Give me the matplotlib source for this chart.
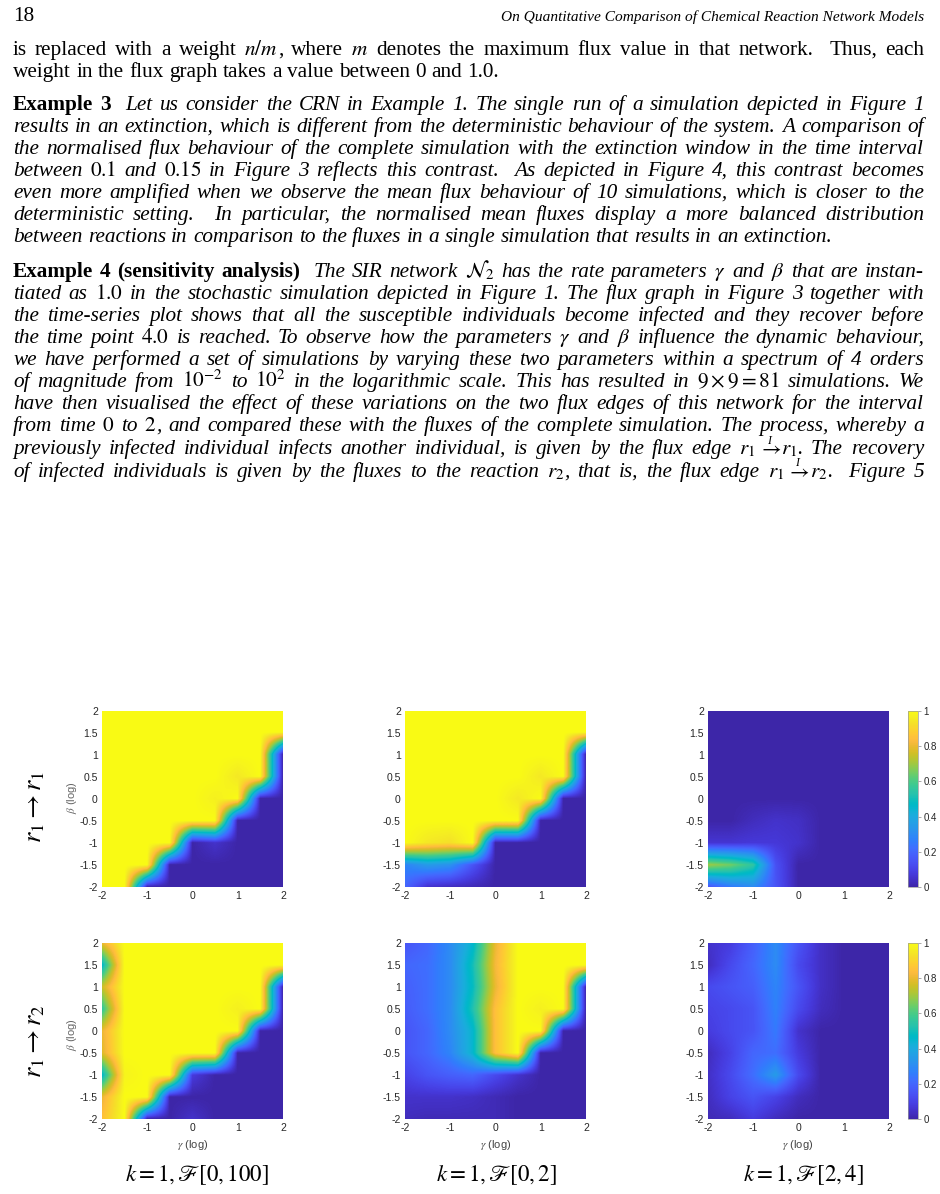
import numpy as np
import matplotlib
matplotlib.use('Agg')
import matplotlib.pyplot as plt
from matplotlib.colors import LinearSegmentedColormap

plt.rcParams['mathtext.fontset'] = 'stix'
plt.rcParams['axes.unicode_minus'] = False

SERIF = 'Liberation Serif'
SANS = 'Liberation Sans'

# ---------------- data (values at grid points, rows: beta = 2 ... -2, cols: gamma = -2 ... 2)
gamma_vals = [-2, -1.5, -1, -0.5, 0, 0.5, 1, 1.5, 2]
beta_vals = [2, 1.5, 1, 0.5, 0, -0.5, -1, -1.5, -2]
x_ticks = [-2, -1, 0, 1, 2]
x_tick_labels = ['-2', '-1', '0', '1', '2']
y_ticks = [-2, -1.5, -1, -0.5, 0, 0.5, 1, 1.5, 2]
y_tick_labels = ['-2', '-1.5', '-1', '-0.5', '0', '0.5', '1', '1.5', '2']
cbar_ticks = [0, 0.2, 0.4, 0.6, 0.8, 1]
cbar_tick_labels = ['0', '0.2', '0.4', '0.6', '0.8', '1']

r1r1_full = [
    [1, 1, 1, 1, 1, 1, 1, 1, 1],
    [1, 1, 1, 1, 1, 1, 1, 1, 1],
    [1, 1, 1, 1, 1, 1, 1, 1, 0],
    [1, 1, 1, 1, 1, 1, .95, 1, 0],
    [1, 1, 1, 1, 1, .97, 1, 0, 0],
    [1, 1, 1, 1, 1, 1, 0, 0, 0],
    [1, 1, 1, 1, 0, .05, 0, 0, 0],
    [1, 1, 1, 0, 0, 0, 0, 0, 0],
    [1, 1, 0, 0, 0, 0, 0, 0, 0],
]
r1r1_02 = [
    [1, 1, 1, 1, 1, 1, 1, 1, 1],
    [1, 1, 1, 1, 1, 1, 1, 1, 1],
    [1, 1, 1, 1, 1, 1, 1, 1, 0],
    [1, 1, 1, 1, 1, 1, .95, 1, 0],
    [1, 1, 1, 1, 1, .95, 1, 0, 0],
    [1, 1, 1, 1, 1, 1, 0, 0, 0],
    [1, .95, .93, 1, 0, 0, 0, 0, 0],
    [.28, .35, .32, .15, 0, 0, 0, 0, 0],
    [.2, .05, .03, .02, 0, 0, 0, 0, 0],
]
r1r1_24 = [
    [0, 0, 0, 0, 0, 0, 0, 0, 0],
    [0, 0, 0, 0, 0, 0, 0, 0, 0],
    [0, 0, 0, 0, 0, 0, 0, 0, 0],
    [0, 0, 0, 0, 0, 0, 0, 0, 0],
    [0, 0, 0, 0, 0, 0, 0, 0, 0],
    [0, 0, .03, .05, .04, 0, 0, 0, 0],
    [.06, .06, .07, .07, .05, 0, 0, 0, 0],
    [.7, .65, .55, .14, 0, 0, 0, 0, 0],
    [.15, .25, .3, .15, 0, 0, 0, 0, 0],
]
r1r2_full = [
    [.8, 1, 1, 1, 1, 1, 1, 1, 1],
    [.45, 1, 1, 1, 1, 1, 1, 1, 1],
    [.75, 1, 1, 1, 1, 1, 1, 1, 0],
    [.55, 1, 1, 1, 1, 1, .97, 1, 0],
    [.8, 1, 1, 1, 1, 1, 1, 0, 0],
    [.78, 1, 1, 1, 1, 1, 0, 0, 0],
    [.45, .98, 1, 1, .08, 0, 0, 0, 0],
    [.8, 1, 1, 0, 0, 0, 0, 0, 0],
    [.85, 1, 0, 0, .05, 0, 0, 0, 0],
]
r1r2_02 = [
    [.15, .2, .3, .45, .8, 1, 1, 1, 1],
    [.2, .22, .3, .5, .82, 1, 1, 1, 1],
    [.18, .22, .3, .48, .8, 1, 1, 1, 0],
    [.17, .22, .3, .52, .85, 1, .97, 1, 0],
    [.15, .2, .3, .45, .85, 1, 1, 0, 0],
    [.15, .2, .28, .45, .85, 1, 0, 0, 0],
    [.1, .15, .18, .2, .12, .05, 0, 0, 0],
    [.05, .05, .05, .04, .02, 0, 0, 0, 0],
    [.03, .02, .02, .02, .02, 0, 0, 0, 0],
]
r1r2_24 = [
    [.05, .08, .18, .3, .15, .04, 0, 0, 0],
    [.03, .12, .2, .3, .12, .04, 0, 0, 0],
    [.12, .15, .18, .28, .15, .04, 0, 0, 0],
    [.1, .12, .15, .27, .12, .03, 0, 0, 0],
    [.08, .12, .15, .25, .05, 0, 0, 0, 0],
    [.03, .1, .2, .22, .08, 0, 0, 0, 0],
    [.04, .12, .22, .35, .12, 0, 0, 0, 0],
    [.03, .1, .15, .1, .03, 0, 0, 0, 0],
    [.02, .03, .08, .03, 0, 0, 0, 0, 0],
]
panels = [[r1r1_full, r1r1_02, r1r1_24], [r1r2_full, r1r2_02, r1r2_24]]
row_labels = [r'$r_1 \rightarrow r_1$', r'$r_1 \rightarrow r_2$']
col_captions = [r'$k = 1, \mathscr{F}[0,100]$', r'$k = 1, \mathscr{F}[0,2]$', r'$k = 1, \mathscr{F}[2,4]$']

# parula colormap
PARULA = [
    (0.2422, 0.1504, 0.6603), (0.2504, 0.1650, 0.7076), (0.2578, 0.1818, 0.7511), (0.2647, 0.1978, 0.7952),
    (0.2706, 0.2147, 0.8364), (0.2751, 0.2342, 0.8710), (0.2783, 0.2559, 0.8991), (0.2803, 0.2782, 0.9221),
    (0.2813, 0.3006, 0.9414), (0.2810, 0.3228, 0.9579), (0.2795, 0.3447, 0.9717), (0.2760, 0.3667, 0.9829),
    (0.2699, 0.3892, 0.9906), (0.2602, 0.4123, 0.9952), (0.2440, 0.4358, 0.9988), (0.2206, 0.4603, 0.9973),
    (0.1963, 0.4847, 0.9892), (0.1834, 0.5074, 0.9798), (0.1786, 0.5289, 0.9682), (0.1764, 0.5499, 0.9520),
    (0.1687, 0.5703, 0.9359), (0.1540, 0.5902, 0.9218), (0.1460, 0.6091, 0.9079), (0.1380, 0.6276, 0.8973),
    (0.1248, 0.6459, 0.8883), (0.1113, 0.6635, 0.8763), (0.0952, 0.6798, 0.8598), (0.0689, 0.6948, 0.8394),
    (0.0297, 0.7082, 0.8163), (0.0036, 0.7203, 0.7917), (0.0067, 0.7312, 0.7660), (0.0433, 0.7411, 0.7394),
    (0.0964, 0.7500, 0.7120), (0.1408, 0.7584, 0.6842), (0.1717, 0.7670, 0.6554), (0.1938, 0.7758, 0.6251),
    (0.2161, 0.7843, 0.5923), (0.2470, 0.7918, 0.5567), (0.2906, 0.7973, 0.5188), (0.3406, 0.8008, 0.4789),
    (0.3909, 0.8029, 0.4354), (0.4456, 0.8024, 0.3909), (0.5044, 0.7993, 0.3480), (0.5616, 0.7942, 0.3045),
    (0.6174, 0.7876, 0.2612), (0.6720, 0.7793, 0.2227), (0.7242, 0.7698, 0.1910), (0.7738, 0.7598, 0.1646),
    (0.8203, 0.7498, 0.1535), (0.8634, 0.7406, 0.1596), (0.9035, 0.7330, 0.1774), (0.9393, 0.7288, 0.2100),
    (0.9728, 0.7298, 0.2394), (0.9956, 0.7434, 0.2371), (0.9970, 0.7659, 0.2199), (0.9952, 0.7893, 0.2028),
    (0.9892, 0.8136, 0.1885), (0.9786, 0.8386, 0.1766), (0.9676, 0.8639, 0.1643), (0.9610, 0.8890, 0.1537),
    (0.9597, 0.9135, 0.1423), (0.9628, 0.9373, 0.1265), (0.9691, 0.9606, 0.1064), (0.9769, 0.9839, 0.0805),
]
parula = LinearSegmentedColormap.from_list('parula', PARULA, N=256)

# ---------------- page text
header_num = '18'
header_title = 'On Quantitative Comparison of Chemical Reaction Network Models'
ARROW_I = r'$\,\rightarrow\,$'

para_lines = [
    # (segments, baseline_y, justified)
    ([('is replaced with a weight ', 'r'), (r'$n/m$', 'm'), (', where ', 'r'), (r'$m$', 'm'),
      (' denotes the maximum flux value in that network.  Thus, each', 'r')], 55, True),
    ([('weight in the flux graph takes a value between 0 and 1.0.', 'r')], 77, False),
    ([('Example 3', 'b'), ('  Let us consider the CRN in Example 1. The single run of a simulation depicted in Figure 1', 'i')], 110, True),
    ([('results in an extinction, which is different from the deterministic behaviour of the system. A comparison of', 'i')], 132, True),
    ([('the normalised flux behaviour of the complete simulation with the extinction window in the time interval', 'i')], 154, True),
    ([('between ', 'i'), (r'$0.1$', 'm'), (' and ', 'i'), (r'$0.15$', 'm'),
      (' in Figure 3 reflects this contrast.  As depicted in Figure 4, this contrast becomes', 'i')], 176, True),
    ([('even more amplified when we observe the mean flux behaviour of 10 simulations, which is closer to the', 'i')], 198, True),
    ([('deterministic setting.  In particular, the normalised mean fluxes display a more balanced distribution', 'i')], 220, True),
    ([('between reactions in comparison to the fluxes in a single simulation that results in an extinction.', 'i')], 242, False),
    ([('Example 4 (sensitivity analysis)', 'b'), ('  The SIR network ', 'i'), (r'$\mathcal{N}_2$', 'm'),
      (' has the rate parameters ', 'i'), (r'$\gamma$', 'm'), (' and ', 'i'), (r'$\beta$', 'm'),
      (' that are instan-', 'i')], 277, True),
    ([('tiated as ', 'i'), (r'$1.0$', 'm'), (' in the stochastic simulation depicted in Figure 1. The flux graph in Figure 3 together with', 'i')], 299, True),
    ([('the time-series plot shows that all the susceptible individuals become infected and they recover before', 'i')], 321, True),
    ([('the time point ', 'i'), (r'$4.0$', 'm'), (' is reached. To observe how the parameters ', 'i'), (r'$\gamma$', 'm'),
      (' and ', 'i'), (r'$\beta$', 'm'), (' influence the dynamic behaviour,', 'i')], 343, True),
    ([('we have performed a set of simulations by varying these two parameters within a spectrum of 4 orders', 'i')], 365, True),
    ([('of magnitude from ', 'i'), (r'$10^{-2}$', 'm'), (' to ', 'i'), (r'$10^{2}$', 'm'),
      (' in the logarithmic scale. This has resulted in ', 'i'), (r'$9\times9=81$', 'm'), (' simulations. We', 'i')], 387, True),
    ([('have then visualised the effect of these variations on the two flux edges of this network for the interval', 'i')], 409, True),
    ([('from time ', 'i'), (r'$0$', 'm'), (' to ', 'i'), (r'$2$', 'm'),
      (', and compared these with the fluxes of the complete simulation. The process, whereby a', 'i')], 431, True),
    ([('previously infected individual infects another individual, is given by the flux edge ', 'i'),
      (r'$r_1$', 'm'), (ARROW_I, 'mI'), (r'$r_1$', 'm'), ('. The recovery', 'i')], 454, True),
    ([('of infected individuals is given by the fluxes to the reaction ', 'i'), (r'$r_2$', 'm'),
      (', that is, the flux edge ', 'i'), (r'$r_1$', 'm'), (ARROW_I, 'mI'), (r'$r_2$', 'm'), ('.  Figure 5', 'i')], 477, True),
]

W, H = 940, 1194
fig = plt.figure(figsize=(W / 100, H / 100), dpi=100)
fig.patch.set_facecolor('white')
renderer = fig.canvas.get_renderer()


def fx(x):
    return x / W


def fy(y):
    return 1 - y / H


LEFT, RIGHT = 13, 924


def style_kw(st):
    if st == 'i':
        return dict(family=SERIF, style='italic')
    if st == 'b':
        return dict(family=SERIF, weight='bold')
    return dict(family=SERIF)


def width_of(t):
    return t.get_window_extent(renderer).width


# choose body font size so a typical line fits with natural spacing
probe = fig.text(0, 0, 'the normalised flux behaviour of the complete simulation with the extinction window in the time interval',
                 fontsize=14, family=SERIF, style='italic')
FS = 14 * 0.975 * (RIGHT - LEFT) / width_of(probe)
probe.remove()


def space_width(size):
    a = fig.text(0, 0, 'a a', family=SERIF, fontsize=size)
    b = fig.text(0, 0, 'aa', family=SERIF, fontsize=size)
    w = width_of(a) - width_of(b)
    a.remove(); b.remove()
    return w


SPACE = space_width(FS)


def draw_line(segs, ybase, justify):
    pieces = []
    pend = 0
    for text, st in segs:
        if st.startswith('m'):
            pieces.append((text, st, pend))
            pend = 0
            continue
        parts = text.split(' ')
        for k, p in enumerate(parts):
            if k > 0:
                pend += 1
            if p:
                pieces.append((p, st, pend))
                pend = 0
    objs = []
    for s, st, sp in pieces:
        t = fig.text(0, fy(ybase), s, fontsize=FS, va='baseline', ha='left', color='black', **style_kw(st))
        objs.append((t, width_of(t), sp, st))
    total = sum(o[1] for o in objs)
    gaps = sum(o[2] for o in objs[1:])
    if justify and gaps:
        sp_w = max((RIGHT - LEFT - total) / gaps, 0.6 * SPACE)
    else:
        sp_w = SPACE
    x = LEFT
    for i, (t, w, sp, st) in enumerate(objs):
        if i > 0:
            x += sp * sp_w
        t.set_x(fx(x))
        if st == 'mI':
            fig.text(fx(x + w / 2), fy(ybase - 10.5), 'I', fontsize=FS * 0.55, family=SERIF, style='italic',
                     ha='center', va='baseline')
        x += w


# header
fig.text(fx(13), fy(21), header_num, family=SERIF, fontsize=FS, va='baseline', ha='left')
ht = fig.text(fx(924), fy(21), header_title, family=SERIF, style='italic', fontsize=FS, va='baseline', ha='right')
hw = width_of(ht)
ht.set_fontsize(FS * 421 / hw)

for segs, yb, just in para_lines:
    draw_line(segs, yb, just)

# ---------------- heatmap panels
col_x = [102, 405, 708]
row_y = [711, 943]
AW, AH = 181, 176
TICKC = '#262626'

for r in range(2):
    for c in range(3):
        ax = fig.add_axes([fx(col_x[c]), fy(row_y[r] + AH), AW / W, AH / H])
        Z = np.array(panels[r][c], dtype=float)
        im = ax.imshow(Z, cmap=parula, vmin=0, vmax=1, origin='upper',
                       extent=(gamma_vals[0] - 0.25, gamma_vals[-1] + 0.25, beta_vals[-1] - 0.25, beta_vals[0] + 0.25),
                       interpolation='bilinear', interpolation_stage='data', aspect='auto')
        ax.set_xlim(-2, 2)
        ax.set_ylim(-2, 2)
        ax.set_xticks(x_ticks)
        ax.set_xticklabels(x_tick_labels)
        ax.set_yticks(y_ticks)
        ax.set_yticklabels(y_tick_labels)
        ax.tick_params(length=0, pad=3, labelsize=7.5, labelcolor=TICKC)
        for lab in ax.get_xticklabels() + ax.get_yticklabels():
            lab.set_family(SANS)
        for s in ax.spines.values():
            s.set_visible(False)
        if c == 2:
            cax = fig.add_axes([fx(908), fy(row_y[r] + AH), 10 / W, AH / H])
            cb = fig.colorbar(im, cax=cax, ticks=cbar_ticks)
            cb.ax.set_yticklabels(cbar_tick_labels)
            cb.ax.tick_params(labelsize=7, labelcolor=TICKC, length=2, width=0.5, direction='out', pad=2, color='#888888')
            for lab in cb.ax.get_yticklabels():
                lab.set_family(SANS)
            cb.outline.set_linewidth(0.5)
            cb.outline.set_edgecolor('#999999')

# axis labels
for r, yc in enumerate([798, 1035]):
    fig.text(fx(72), fy(yc), r'$\beta$ (log)', family=SANS, fontsize=8, color='#666666',
             rotation=90, ha='center', va='center')
for c, xc in enumerate([193, 496, 798]):
    fig.text(fx(xc), fy(1145), r'$\gamma$ (log)', family=SANS, fontsize=8, color='#444444',
             ha='center', va='center')

# row labels
for lab, yc in zip(row_labels, [807, 1041]):
    fig.text(fx(36), fy(yc), lab, fontsize=19, rotation=90, ha='center', va='center', family=SERIF)

# column captions
for cap, xc in zip(col_captions, [197, 497, 804]):
    fig.text(fx(xc), fy(1175), cap, fontsize=16.5, ha='center', va='center', family=SERIF)

fig.savefig('out.png', dpi=100, facecolor='white')
